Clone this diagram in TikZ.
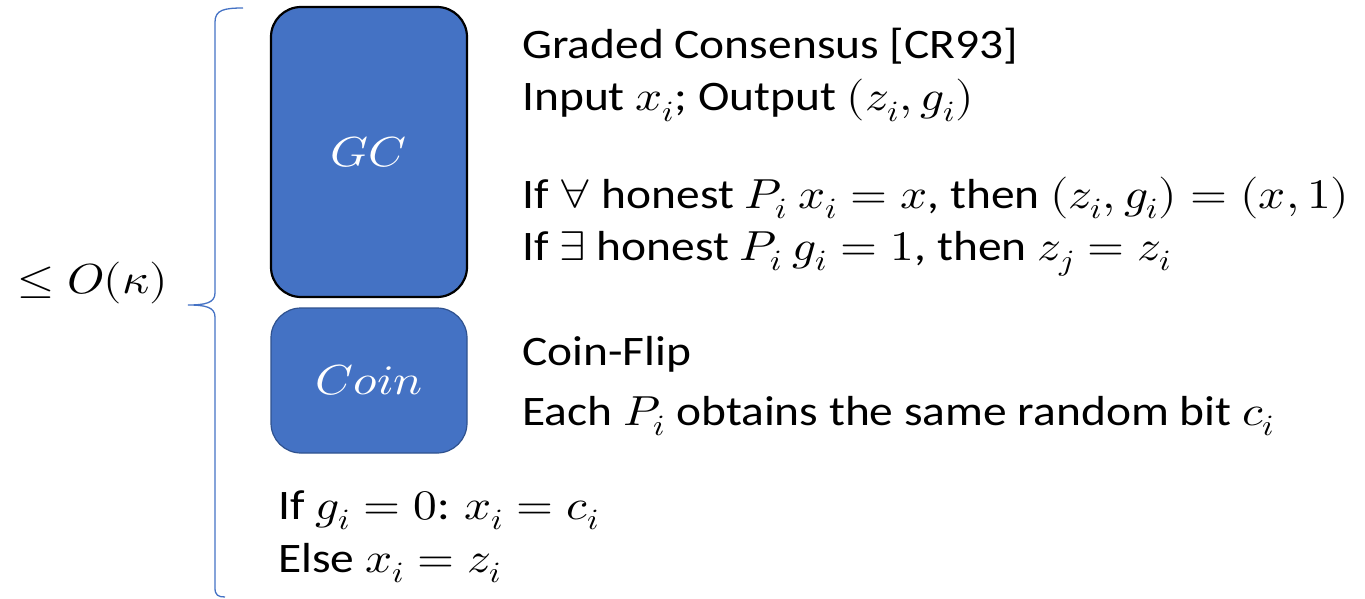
\documentclass[tikz,border=0pt]{standalone}
\usepackage{fontspec}
\usepackage{unicode-math}
\setmainfont{Carlito}
\definecolor{boxblue}{HTML}{4472C4}
\definecolor{coinedge}{HTML}{2F528F}
\begin{document}
\begin{tikzpicture}[x=1pt,y=-1pt,
  txt/.style={anchor=base west,inner sep=0pt,xscale=1.13,transform shape,font=\fontsize{42}{50}\selectfont},
  blk/.style={rounded corners=30pt,fill=boxblue,inner sep=0pt},
  blklabel/.style={text=white,inner sep=0pt,xscale=1.15,transform shape,font=\fontsize{42}{50}\selectfont},
  bracestyle/.style={draw=boxblue,line width=1.3pt}]
\useasboundingbox (0,0) rectangle (1365,599);
% boxes
\node[blk,draw=black,line width=2.2pt,minimum width=196pt,minimum height=290pt] (gc) at (369,152) {};
\node[blklabel] (gclabel) at (gc.center) {$GC$};
\node[blk,draw=coinedge,line width=1.2pt,minimum width=196pt,minimum height=145pt] (coin) at (369,380.5) {};
\node[blklabel] (coinlabel) at (coin.center) {$Coin$};
% brace
\draw[bracestyle] (243,8) .. controls (224,8) and (215,10) .. (215,22) -- (215,293)
  .. controls (215,303) and (205,305) .. (188,305)
  .. controls (205,305) and (215,307) .. (215,317) -- (215,588)
  .. controls (215,595) and (218,597) .. (225,597);
% left label
\node[txt] (bound) at (17,293) {$\leq O(\kappa)$};
% right texts
\node[txt] (t1) at (522,59) {Graded Consensus [CR93]};
\node[txt] (t2) at (522,111) {Input $x_i$; Output $(z_i,g_i)$};
\node[txt] (t3) at (522,208) {If $\forall$ honest $P_i$ $x_i=x$, then $(z_i,g_i)=(x,1)$};
\node[txt] (t4) at (522,260) {If $\exists$ honest $P_i$ $g_i=1$, then $z_j=z_i$};
\node[txt] (t5) at (522,365) {Coin-Flip};
\node[txt] (t6) at (522,425) {Each $P_i$ obtains the same random bit $c_i$};
\node[txt] (t7) at (278,519) {If $g_i=0$: $x_i=c_i$};
\node[txt] (t8) at (278,572) {Else $x_i=z_i$};
\end{tikzpicture}
\end{document}
